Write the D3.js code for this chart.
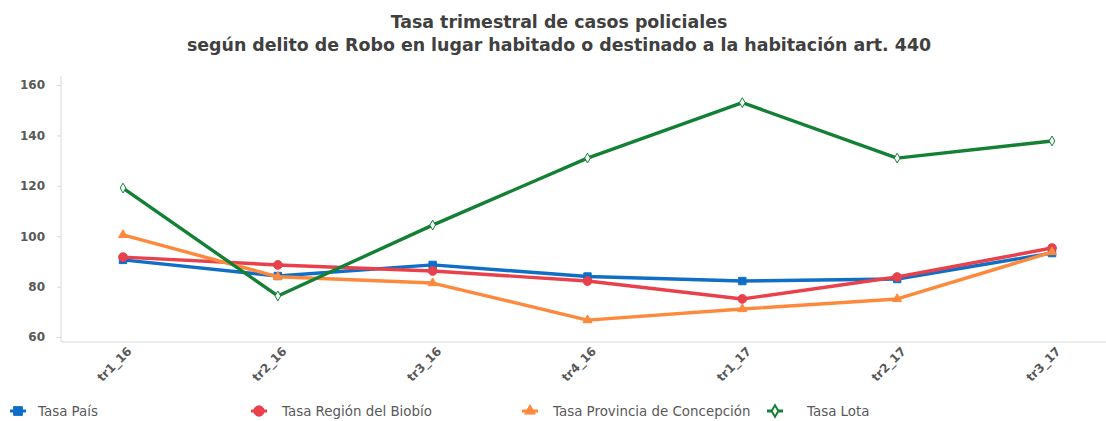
<!DOCTYPE html>
<html>
<head>
<meta charset="utf-8">
<script src="https://cdn.jsdelivr.net/npm/d3@7"></script>
<style>
  body { margin: 0; background: #fff; }
  text { font-family: "DejaVu Sans", Verdana, sans-serif; }
</style>
</head>
<body>
<div id="chart"></div>
<script>
var categories = ["tr1_16", "tr2_16", "tr3_16", "tr4_16", "tr1_17", "tr2_17", "tr3_17"];
var tasaPais = [90.6, 84.2, 88.6, 84.0, 82.2, 83.0, 93.3];
var tasaRegion = [91.7, 88.6, 86.2, 82.2, 75.1, 83.8, 95.3];
var tasaProvincia = [100.5, 83.9, 81.4, 66.7, 71.1, 75.1, 93.7];
var tasaLota = [119.1, 76.3, 104.4, 131.0, 153.0, 131.0, 137.8];
var yTicks = [60, 80, 100, 120, 140, 160];

var series = [
    {name: "Tasa País", values: tasaPais, color: "#0f6fc6", symbol: d3.symbolSquare, size: 55, hollow: false},
    {name: "Tasa Región del Biobío", values: tasaRegion, color: "#e8414c", symbol: d3.symbolCircle, size: 60, hollow: false},
    {name: "Tasa Provincia de Concepción", values: tasaProvincia, color: "#fd8a3c", symbol: d3.symbolTriangle, size: 35, hollow: false},
    {name: "Tasa Lota", values: tasaLota, color: "#138035", symbol: d3.symbolDiamond, size: 28, hollow: true}
];

var width = 1106, height = 421;
var margin = {top: 85, right: 0, bottom: 84, left: 61};

var svg = d3.select("#chart").append("svg")
    .attr("width", width)
    .attr("height", height);

// Title
var titleLines = ["Tasa trimestral de casos policiales",
    "según delito de Robo en lugar habitado o destinado a la habitación art. 440"];
svg.selectAll(".title")
    .data(titleLines)
    .enter().append("text")
    .attr("class", "title")
    .attr("x", 559)
    .attr("y", (d, i) => 28 + i * 23)
    .attr("text-anchor", "middle")
    .style("font-size", "17.4px").style("font-weight", "bold")
    .attr("fill", "#404040")
    .text(d => d);

var xScale = d3.scalePoint()
    .domain(categories)
    .range([123, 1052]);

var yScale = d3.scaleLinear()
    .domain([60, 160])
    .range([337, 85]);

var plotBottom = 342;

// y axis
var yAxis = svg.append("g")
    .attr("transform", "translate(" + margin.left + ",0)")
    .call(d3.axisLeft(yScale).tickValues(yTicks).tickSize(4).tickPadding(12));
yAxis.select(".domain").attr("stroke", "#d9d9d9").attr("d", "M0,76V" + plotBottom);
yAxis.selectAll(".tick line").attr("stroke", "#d9d9d9");
yAxis.selectAll("text")
    .attr("fill", "#595959")
    .style("font-size", "12px")
    .style("font-weight", "bold")
    .style("font-family", "'DejaVu Sans', Verdana, sans-serif");

// x axis
var xAxis = svg.append("g")
    .attr("transform", "translate(0," + plotBottom + ")")
    .call(d3.axisBottom(xScale).tickSize(0).tickPadding(0));
xAxis.select(".domain").attr("stroke", "#d9d9d9").attr("d", "M" + margin.left + ",0H" + width);
xAxis.selectAll("text")
    .attr("fill", "#595959")
    .style("font-size", "12px")
    .style("font-weight", "bold")
    .style("font-family", "'DejaVu Sans', Verdana, sans-serif")
    .attr("text-anchor", "end")
    .attr("dy", "0")
    .attr("transform", "translate(9,10) rotate(-45)");

var line = d3.line()
    .x((d, i) => xScale(categories[i]))
    .y(d => yScale(d));

series.forEach(function(s) {
    svg.append("path")
        .datum(s.values)
        .attr("fill", "none")
        .attr("stroke", s.color)
        .attr("stroke-width", 3.4)
        .attr("stroke-linejoin", "round")
        .attr("d", line);

    svg.selectAll(null)
        .data(s.values)
        .enter().append("path")
        .attr("transform", (d, i) => "translate(" + xScale(categories[i]) + "," + yScale(d) + ")")
        .attr("d", d3.symbol().type(s.symbol).size(s.size))
        .attr("fill", s.hollow ? "#fff" : s.color)
        .attr("stroke", s.color)
        .attr("stroke-width", 1);
});

// Legend
var legendMarkerX = [10, 251, 522, 767];
var legendTextX = [38, 282, 553, 807];
var legend = svg.selectAll(".legend")
    .data(series)
    .enter().append("g")
    .attr("class", "legend");

legend.append("line")
    .attr("x1", (d, i) => legendMarkerX[i])
    .attr("x2", (d, i) => legendMarkerX[i] + 16)
    .attr("y1", 411).attr("y2", 411)
    .attr("stroke", d => d.color)
    .attr("stroke-width", 3);
legend.append("path")
    .attr("transform", (d, i) => "translate(" + (legendMarkerX[i] + 8) + ",411)")
    .attr("d", d => d3.symbol().type(d.symbol).size(d.size * 1.4)())
    .attr("fill", d => d.hollow ? "#fff" : d.color)
    .attr("stroke", d => d.color)
    .attr("stroke-width", d => d.hollow ? 2 : 1);
legend.append("text")
    .attr("x", (d, i) => legendTextX[i])
    .attr("y", 416)
    .style("font-size", "13.4px")
    .attr("fill", "#595959")
    .text(d => d.name);
</script>
</body>
</html>
